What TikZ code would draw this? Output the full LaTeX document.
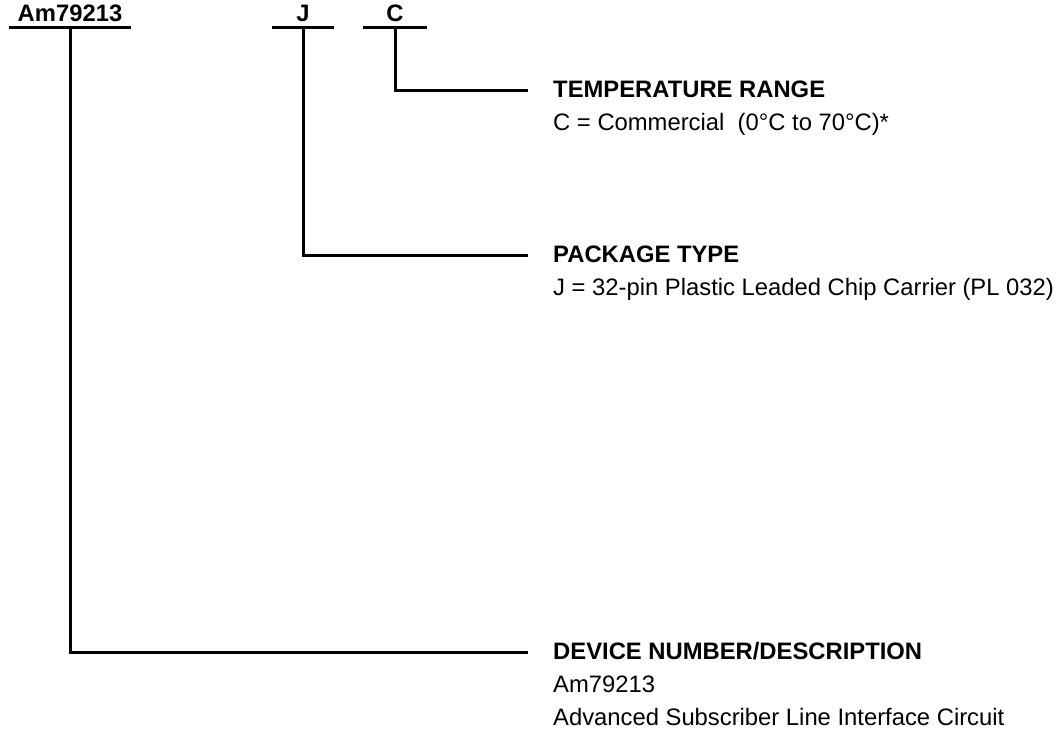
\documentclass[tikz,border=0pt]{standalone}
\usepackage{fontspec}
\setmainfont{Liberation Sans}
\usetikzlibrary{positioning}
\begin{document}
\begin{tikzpicture}[x = 1pt, y = -1pt,
	font = \fontsize{23.8}{28}\selectfont,
	code/.style = {font = \fontsize{23.8}{28}\selectfont\bfseries, inner xsep = 0pt, inner ysep = 5pt, text depth = 0pt, anchor = base},
	head/.style = {font = \fontsize{23.8}{28}\selectfont\bfseries, inner sep = 0pt, text height = 14pt, text depth = 0pt, anchor = base west},
	desc/.style = {inner sep = 0pt, anchor = base west},
	lead/.style = {line width = 3pt}]
				%	page size
				\useasboundingbox (0, 0) rectangle (1056, 730);
				
				\def\tx{553}
				\def\gap{33pt}
				
				%	ordering code
				\node[code, minimum width = 121pt] (am) at (70, 22) {Am79213};
				\node[code, minimum width = 61pt] (pj) at (303, 22) {J};
				\node[code, minimum width = 63pt] (tc) at (395, 22) {C};
				\draw[lead] (am.south west) -- (am.south east);
				\draw[lead] (pj.south west) -- (pj.south east);
				\draw[lead] (tc.south west) -- (tc.south east);
				
				%	descriptions
				\node[head] (temp) at (\tx, 98) {TEMPERATURE RANGE};
				\node[desc] (tempc) at ([yshift = -\gap]temp.base west) {C = Commercial\ \ (0°C to 70°C)*};
				
				\node[head] (pack) at (\tx, 262) {PACKAGE TYPE};
				\node[desc] (packj) at ([yshift = -\gap]pack.base west) {J = 32-pin Plastic Leaded Chip Carrier (PL 032)};
				
				\node[head] (dev) at (\tx, 659) {DEVICE NUMBER/DESCRIPTION};
				\node[desc] (devno) at ([yshift = -\gap]dev.base west) {Am79213};
				\node[desc] (devtxt) at ([yshift = -\gap]devno.base west) {Advanced Subscriber Line Interface Circuit};
				
				%	leaders
				\draw[lead] (tc.south) |- ([xshift = -25pt]temp.west);
				\draw[lead] (pj.south) |- ([xshift = -25pt]pack.west);
				\draw[lead] (am.south) |- ([xshift = -25pt]dev.west);
\end{tikzpicture}
\end{document}
